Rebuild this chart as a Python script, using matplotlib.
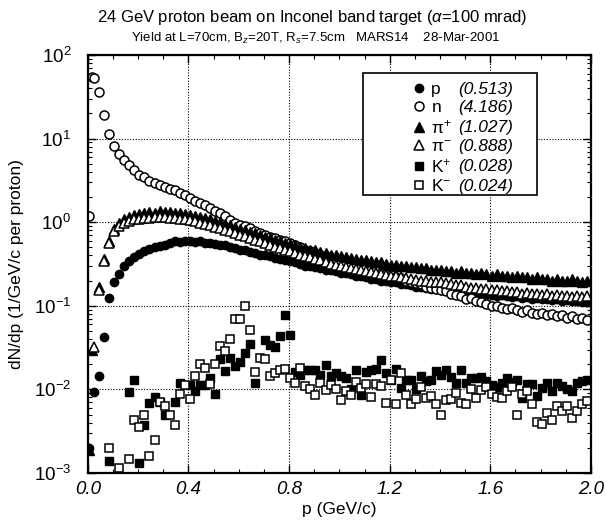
import numpy as np
import matplotlib
matplotlib.use("Agg")
import matplotlib.pyplot as plt
from matplotlib.patches import Rectangle
from matplotlib.ticker import MultipleLocator, LogLocator, NullFormatter

plt.rcParams['font.family'] = ['Liberation Sans', 'DejaVu Sans']
plt.rcParams['mathtext.fontset'] = 'custom'
plt.rcParams['mathtext.rm'] = 'Liberation Sans'
plt.rcParams['mathtext.it'] = 'Liberation Sans:italic'

# momentum bins (GeV/c): two narrow bins at the start, then 0.02 steps
p = np.concatenate(([0.005, 0.015], np.arange(0.025, 2.0, 0.02)))
nan = np.nan

# dN/dp (1/GeV/c per proton), one value per bin
proton = [0.002, nan, 0.0093, 0.0145, 0.042, 0.123, 0.19, 0.24, 0.30, 0.34,
          0.38, 0.42, 0.45, 0.48, 0.50, 0.52, 0.54, 0.56, 0.60, 0.58,
          0.59, 0.60, 0.58, 0.59, 0.56, 0.57, 0.55, 0.53, 0.54, 0.51,
          0.49, 0.47, 0.46, 0.44, 0.43, 0.41, 0.40, 0.39, 0.37, 0.36,
          0.35, 0.34, 0.33, 0.32, 0.30, 0.30, 0.29, 0.28, 0.27, 0.27,
          0.26, 0.25, 0.245, 0.24, 0.23, 0.225, 0.22, 0.21, 0.21, 0.20,
          0.20, 0.19, 0.19, 0.18, 0.18, 0.175, 0.17, 0.17, 0.165, 0.16,
          0.16, 0.155, 0.155, 0.15, 0.15, 0.145, 0.145, 0.14, 0.14, 0.14,
          0.135, 0.135, 0.13, 0.135, 0.13, 0.128, 0.13, 0.125, 0.127, 0.122,
          0.125, 0.12, 0.122, 0.118, 0.12, 0.115, 0.118, 0.113, 0.115, 0.112,
          0.11]
neutron = [1.2, 54, 53, 36, 19, 11.3, 8.1, 6.5, 5.5, 4.8,
           4.2, 3.7, 3.5, 3.15, 2.95, 2.8, 2.65, 2.5, 2.4, 2.25,
           2.1, 1.95, 1.8, 1.7, 1.6, 1.48, 1.38, 1.3, 1.18, 1.07,
           0.98, 0.93, 0.89, 0.85, 0.78, 0.74, 0.70, 0.67, 0.64, 0.62,
           0.60, 0.56, 0.53, 0.50, 0.47, 0.45, 0.43, 0.41, 0.39, 0.37,
           0.36, 0.34, 0.33, 0.31, 0.30, 0.29, 0.28, 0.27, 0.26, 0.25,
           0.24, 0.235, 0.22, 0.215, 0.20, 0.195, 0.185, 0.18, 0.17, 0.165,
           0.16, 0.155, 0.15, 0.14, 0.135, 0.13, 0.12, 0.125, 0.115, 0.11,
           0.105, 0.10, 0.10, 0.095, 0.092, 0.095, 0.088, 0.085, 0.09, 0.082,
           0.08, 0.083, 0.078, 0.08, 0.075, 0.078, 0.072, 0.075, 0.07, 0.072,
           0.068]
pi_plus = [0.0019, 0.03, nan, 0.17, 0.36, 0.60, 0.82, 0.98, 1.08, 1.17,
           1.22, 1.27, 1.30, 1.33, 1.30, 1.35, 1.32, 1.33, 1.30, 1.28,
           1.27, 1.22, 1.20, 1.15, 1.12, 1.08, 1.03, 1.00, 0.96, 0.92,
           0.88, 0.84, 0.80, 0.77, 0.74, 0.70, 0.67, 0.64, 0.62, 0.60,
           0.57, 0.55, 0.53, 0.51, 0.49, 0.47, 0.46, 0.44, 0.43, 0.41,
           0.40, 0.39, 0.38, 0.37, 0.36, 0.35, 0.35, 0.34, 0.33, 0.33,
           0.32, 0.31, 0.31, 0.30, 0.30, 0.29, 0.29, 0.28, 0.28, 0.27,
           0.27, 0.27, 0.26, 0.26, 0.25, 0.26, 0.25, 0.25, 0.24, 0.25,
           0.24, 0.23, 0.24, 0.23, 0.23, 0.22, 0.23, 0.22, 0.22, 0.21,
           0.22, 0.21, 0.21, 0.20, 0.21, 0.20, 0.20, 0.21, 0.20, 0.19,
           0.20]
pi_minus = [nan, nan, 0.032, 0.155, 0.34, 0.57, 0.78, 0.90, 0.98, 1.03,
            1.08, 1.10, 1.13, 1.12, 1.15, 1.14, 1.15, 1.13, 1.12, 1.10,
            1.08, 1.05, 1.02, 0.99, 0.96, 0.92, 0.88, 0.85, 0.81, 0.78,
            0.74, 0.71, 0.68, 0.65, 0.62, 0.59, 0.56, 0.53, 0.51, 0.49,
            0.47, 0.45, 0.43, 0.41, 0.39, 0.38, 0.36, 0.35, 0.33, 0.32,
            0.31, 0.30, 0.29, 0.28, 0.275, 0.27, 0.26, 0.255, 0.25, 0.24,
            0.235, 0.23, 0.225, 0.22, 0.215, 0.21, 0.205, 0.20, 0.20, 0.195,
            0.19, 0.19, 0.185, 0.18, 0.175, 0.175, 0.17, 0.165, 0.165, 0.16,
            0.16, 0.155, 0.155, 0.15, 0.15, 0.145, 0.145, 0.14, 0.142, 0.138,
            0.14, 0.135, 0.137, 0.132, 0.135, 0.13, 0.132, 0.128, 0.13, 0.127,
            0.13]
k_plus = [nan, nan, nan, nan, nan, 0.0014, nan, nan, nan, 0.0093,
          0.013, 0.0013, 0.0037, 0.0068, 0.0081, 0.0071, 0.0049, nan, 0.0070, 0.012,
          nan, 0.0112, 0.0095, 0.0112, 0.0112, 0.0135, 0.0089, 0.023, 0.0166, 0.024,
          0.019, 0.021, 0.0275, 0.035, 0.012, nan, 0.039, 0.034, 0.0318, 0.044,
          0.077, 0.045, 0.0163, 0.015, 0.0169, 0.0169, 0.0169, 0.015, 0.0194, 0.0145,
          0.0159, 0.0145, 0.0135, 0.010, 0.0169, 0.0085, 0.0163, 0.0169, 0.0177, 0.0224,
          0.0159, 0.0129, 0.0177, 0.0104, 0.0129, 0.0129, 0.010, 0.0145, 0.0125, 0.0128,
          0.0166, 0.0149, 0.0172, 0.0142, 0.0118, 0.0172, 0.0119, 0.0138, 0.0138, 0.0142,
          0.0125, 0.0114, 0.0107, 0.012, 0.0138, 0.0122, 0.0131, 0.0078, 0.0115, 0.0115,
          0.0083, 0.0105, 0.0119, 0.0096, 0.0119, 0.011, 0.010, 0.0096, 0.0118, 0.0125,
          0.0131]
k_minus = [nan, nan, nan, nan, nan, 0.002, nan, 0.00114, nan, 0.00145,
           0.0043, 0.0035, 0.0049, 0.00159, 0.0025, 0.0070, 0.0063, 0.0049, 0.0037, 0.0089,
           0.0112, 0.0077, 0.0145, 0.0203, 0.018, 0.0117, 0.0203, 0.033, 0.029, 0.040,
           0.0695, 0.0695, 0.10, 0.052, 0.0163, 0.024, 0.023, 0.0145, 0.0159, 0.0169,
           0.0177, 0.0137, 0.012, 0.0182, 0.0109, 0.0102, 0.0085, 0.012, 0.0097, 0.0112,
           0.010, 0.0074, 0.0095, 0.0085, 0.0123, 0.0105, 0.0117, 0.0081, 0.0115, 0.011,
           0.0068, 0.0128, 0.0066, 0.0155, 0.0085, 0.0066, 0.0077, 0.0107, 0.0078, 0.0083,
           0.0066, 0.005, 0.0075, 0.0077, 0.009, 0.0068, 0.0066, 0.010, 0.0078, 0.0097,
           0.0108, 0.0087, 0.0082, 0.0078, 0.0095, 0.0107, 0.005, 0.0088, 0.0096, 0.0066,
           0.0041, 0.0039, 0.0052, 0.0043, 0.0063, 0.0055, 0.0063, 0.0046, 0.0055, 0.0066,
           0.0072]

names = ['p', 'n', r'π$^{+}$', r'π$^{-}$', r'K$^{+}$', r'K$^{-}$']
integrals = ['(0.513)', '(4.186)', '(1.027)', '(0.888)', '(0.028)', '(0.024)']

fig = plt.figure(figsize=(6.06, 5.26), dpi=100)
ax = fig.add_axes([0.145, 0.1008, 0.830, 0.7946])

ax.plot(p, proton, 'o', color='k', ms=6, label=names[0])
ax.plot(p, neutron, 'o', mfc='white', mec='k', mew=1.1, ms=6.5, label=names[1])
ax.plot(p, pi_plus, '^', color='k', ms=6.5, label=names[2])
ax.plot(p, pi_minus, '^', mfc='white', mec='k', mew=1.1, ms=6.5, label=names[3])
ax.plot(p, k_plus, 's', color='k', ms=5.5, label=names[4])
ax.plot(p, k_minus, 's', mfc='white', mec='k', mew=1.1, ms=5.5, label=names[5])

ax.set_yscale('log')
ax.set_xlim(0.0, 2.0)
ax.set_ylim(1e-3, 1e2)

ax.xaxis.set_major_locator(MultipleLocator(0.4))
ax.xaxis.set_minor_locator(MultipleLocator(0.1))
ax.yaxis.set_major_locator(LogLocator(base=10))
ax.yaxis.set_minor_locator(LogLocator(base=10, subs=np.arange(2, 10)))
ax.yaxis.set_minor_formatter(NullFormatter())
ax.set_xticklabels(['%.1f' % v for v in ax.get_xticks()], fontstyle='italic')
ax.tick_params(which='both', direction='in', top=True, right=True, labelsize=13.5)
ax.tick_params(axis='x', which='major', pad=6)
ax.tick_params(axis='y', which='major', pad=12)
ax.tick_params(which='major', length=6, width=1)
ax.tick_params(which='minor', length=3, width=0.8)
for s in ax.spines.values():
    s.set_linewidth(1.6)

ax.grid(True, which='major', color='k', linestyle=(0, (1, 1.5)), linewidth=0.8)

ax.set_xlabel('p (GeV/c)', fontsize=12.5, labelpad=3)
ax.set_ylabel('dN/dp (1/GeV/c per proton)', fontsize=12.5, labelpad=7)

fig.text(0.515, 0.967, r'24 GeV proton beam on Inconel band target ($\alpha$=100 mrad)',
         ha='center', va='center', fontsize=12)
fig.text(0.52, 0.927, r'Yield at L=70cm, B$_z$=20T, R$_s$=7.5cm   MARS14    28-Mar-2001',
         ha='center', va='center', fontsize=9.5)

# legend box drawn separately so the entries can sit right of centre
ax.add_patch(Rectangle((0.547, 0.665), 0.346, 0.292, transform=ax.transAxes,
                       facecolor='white', edgecolor='k', linewidth=1.2, zorder=4))
leg = ax.legend(loc='upper left', bbox_to_anchor=(0.645, 0.935), fontsize=12.5,
                frameon=False, handlelength=0.8, handletextpad=0.3,
                labelspacing=0.17, borderpad=0, borderaxespad=0)
leg.set_zorder(5)

# integrated yields in italics, in a column right of the particle names
fig.canvas.draw()
boxes = [t.get_window_extent() for t in leg.get_texts()]
x_num = max(bb.x1 for bb in boxes) + 6
for bb, val in zip(boxes, integrals):
    fig.text(x_num, (bb.y0 + bb.y1) / 2, val, transform=None, fontsize=12.5,
             fontstyle='italic', ha='left', va='center', zorder=6)

fig.savefig('out.png', dpi=100)
